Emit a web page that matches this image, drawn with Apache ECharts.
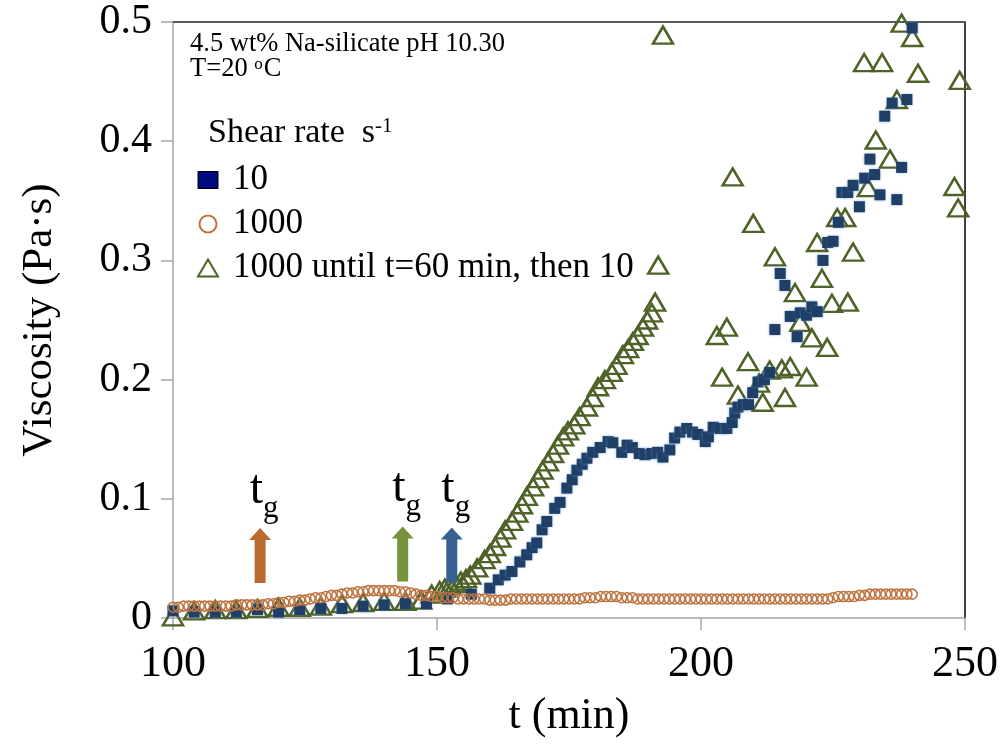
<!DOCTYPE html>
<html>
<head>
<meta charset="utf-8">
<script src="https://cdn.jsdelivr.net/npm/echarts@6/dist/echarts.min.js"></script>
<style>
  html, body { margin: 0; padding: 0; background: #fff; }
  #main { width: 1002px; height: 747px; }
</style>
</head>
<body>
<div id="main"></div>
<script>
// 数据: 剪切速率 1000 s-1 (每分钟一个点, 从 t=100 开始)
const orangeStart = 100;
const orangeStep = 1;
const orangeV = [
  0.009, 0.009, 0.010, 0.010, 0.010, 0.010, 0.010, 0.010, 0.010, 0.010,
  0.010, 0.010, 0.011, 0.011, 0.011, 0.011, 0.011, 0.011, 0.012, 0.012,
  0.013, 0.013, 0.014, 0.014, 0.015, 0.015, 0.016, 0.017, 0.017, 0.018,
  0.019, 0.019, 0.020, 0.021, 0.021, 0.022, 0.022, 0.023, 0.023, 0.023,
  0.023, 0.023, 0.023, 0.022, 0.022, 0.021, 0.020, 0.019, 0.019, 0.018,
  0.018, 0.017, 0.017, 0.017, 0.016, 0.016, 0.016, 0.016, 0.016, 0.016,
  0.015, 0.015, 0.015, 0.015, 0.016, 0.016, 0.016, 0.016, 0.016, 0.016,
  0.016, 0.016, 0.016, 0.016, 0.016, 0.016, 0.016, 0.016, 0.017, 0.017,
  0.017, 0.018, 0.018, 0.018, 0.018, 0.017, 0.017, 0.017, 0.016, 0.016,
  0.016, 0.016, 0.016, 0.016, 0.016, 0.016, 0.016, 0.016, 0.016, 0.016,
  0.016, 0.016, 0.016, 0.016, 0.016, 0.016, 0.016, 0.016, 0.016, 0.016,
  0.016, 0.016, 0.016, 0.016, 0.016, 0.016, 0.016, 0.016, 0.016, 0.016,
  0.016, 0.016, 0.016, 0.016, 0.016, 0.017, 0.018, 0.018, 0.018, 0.018,
  0.019, 0.019, 0.020, 0.020, 0.020, 0.020, 0.020, 0.020, 0.020, 0.020,
  0.020
];

// 剪切速率 10 s-1
const blueT = [
  100, 104, 108, 112, 116, 120, 124, 128, 132, 136, 140, 144, 148, 152, 156.5, 160,
  161.6, 162.9, 164.2, 165.7, 167, 168, 168.9, 169.9, 170.8, 172.3, 173.3, 174.6, 175.6, 176.5,
  177.5, 178.4, 179.5, 180.9, 182.4, 183.3, 185, 186, 187, 188.3, 189.4, 190.7, 191.8, 192.8,
  194.1, 195, 196, 197.3, 198.4, 199.4, 200.8, 201.4, 202.3, 203.6, 204.9, 205.9, 206.4, 207,
  208, 209, 209.8, 210.8, 212, 213, 214, 215, 215.9, 216.9, 218.2, 218.8, 220, 221, 222,
  223.1, 224, 225, 226, 226.7, 227.8, 228.8, 230, 231, 232, 232.9, 233.9, 234.8, 236.2,
  237.1, 238, 239, 240
];
const blueV = [
  0.006, 0.005, 0.005, 0.005, 0.007, 0.005, 0.007, 0.008, 0.008, 0.010, 0.011, 0.012, 0.012, 0.016, 0.020, 0.025,
  0.032, 0.036, 0.039, 0.047, 0.053, 0.059, 0.063, 0.074, 0.081, 0.092, 0.097, 0.109, 0.116, 0.124,
  0.129, 0.134, 0.139, 0.143, 0.148, 0.147, 0.139, 0.145, 0.143, 0.138, 0.137, 0.138, 0.139, 0.135,
  0.141, 0.151, 0.156, 0.159, 0.156, 0.154, 0.148, 0.152, 0.160, 0.159, 0.159, 0.164, 0.172, 0.177,
  0.179, 0.179, 0.189, 0.198, 0.200, 0.206, 0.242, 0.289, 0.279, 0.253, 0.236, 0.256, 0.254, 0.261, 0.257,
  0.300, 0.315, 0.316, 0.332, 0.357, 0.357, 0.363, 0.345, 0.369, 0.385, 0.372, 0.355, 0.421, 0.432,
  0.351, 0.378, 0.435, 0.495
];

// 1000 s-1 直到 t=60 min, 然后 10 s-1
const greenT = [
  100, 104, 108, 112, 116, 120, 124, 128, 132, 136, 140, 144, 147, 149,
  150.5, 151.5, 152.5, 153.5, 154.5, 155.5, 156.3, 157.6, 159, 160, 161, 162, 162.9, 164.2,
  165.2, 166.1, 167, 168.2, 169.1, 170, 171, 172, 172.9, 173.9, 174.8, 176, 177, 178.4,
  179.5, 180.5, 181.8, 183.1, 184, 185.2, 186.2, 187.1, 188, 189, 189.8, 190.7, 191.3, 191.9,
  192.8,
  203, 204, 204.9, 206, 207, 208.9, 209.9, 211, 211.7, 213, 214, 215.3, 215.9, 216.9, 217.8,
  218.8, 220, 221, 222, 222.9, 223.9, 224.8, 225.8, 227.3, 227.8, 228.8, 230.9, 231.6, 233.1,
  234.3, 235.8, 237.1, 238, 240, 241.1, 248, 248.7, 249
];
const greenV = [
  0.001, 0.006, 0.007, 0.007, 0.008, 0.009, 0.009, 0.010, 0.012, 0.013, 0.014, 0.014, 0.015, 0.020,
  0.023, 0.025, 0.027, 0.029, 0.031, 0.033, 0.036, 0.042, 0.049, 0.054, 0.060, 0.067, 0.074, 0.081,
  0.088, 0.095, 0.102, 0.110, 0.117, 0.124, 0.131, 0.138, 0.145, 0.152, 0.157, 0.162, 0.169, 0.177,
  0.185, 0.194, 0.200, 0.206, 0.212, 0.221, 0.226, 0.232, 0.237, 0.244, 0.250, 0.256, 0.265, 0.296,
  0.489,
  0.237, 0.202, 0.244, 0.370, 0.187, 0.215, 0.331, 0.197, 0.181, 0.208, 0.303, 0.209, 0.185, 0.211, 0.273,
  0.248, 0.202, 0.235, 0.315, 0.285, 0.227, 0.264, 0.336, 0.336, 0.265, 0.307, 0.466, 0.361, 0.401,
  0.466, 0.385, 0.435, 0.499, 0.487, 0.457, 0.362, 0.344, 0.451
];

// t_g 箭头位置 [t, 高度]
const tgOrange = [116.5, 0.0524];
const tgGreen = [143.5, 0.0537];
const tgBlue = [152.8, 0.0528];

const xTicks = { min: 100, max: 250, interval: 50 };
const yTicks = { min: 0, max: 0.5, interval: 0.1 };

const serif = '"Liberation Serif", "Times New Roman", serif';
const arrowPath = 'path://M11,0 L22,12 L16.5,12 L16.5,55 L5.5,55 L5.5,12 L0,12 Z';

function pairs(ts, vs) {
  return ts.map((t, i) => [t, vs[i]]);
}
const orangeData = orangeV.map((v, i) => [orangeStart + i * orangeStep, v]);

function tgMark(coord, color) {
  return {
    symbol: arrowPath,
    symbolSize: [22, 55],
    symbolKeepAspect: false,
    itemStyle: { color: color, borderWidth: 0, shadowBlur: 0, opacity: 1 },
    label: {
      show: true,
      position: 'top',
      distance: 4,
      offset: [4, 0],
      formatter: '{t|t}{g|g}',
      rich: {
        t: { fontFamily: serif, fontSize: 48, color: '#000', lineHeight: 48, padding: [0, 0, 10, 0], verticalAlign: 'bottom' },
        g: { fontFamily: serif, fontSize: 31, color: '#000', lineHeight: 31, verticalAlign: 'bottom' }
      }
    },
    data: [{ coord: coord, value: '' }]
  };
}

const myChart = echarts.init(document.getElementById('main'));
const option = {
  animation: false,
  backgroundColor: '#fff',
  grid: { left: 173, right: 37, top: 22, bottom: 129 },
  legend: {
    orient: 'vertical',
    left: 197,
    top: 162,
    padding: 0,
    itemWidth: 20,
    itemHeight: 17,
    itemGap: 8,
    textStyle: { fontFamily: serif, fontSize: 35, color: '#000', lineHeight: 36, padding: [0, 0, 0, 10] },
    data: [
      { name: '10', itemStyle: { color: '#000A80', borderColor: '#000', borderWidth: 1, shadowBlur: 0, opacity: 1 } },
      { name: '1000' },
      { name: '1000 until t=60 min, then 10' }
    ]
  },
  graphic: [
    {
      type: 'text', left: 190, top: 31,
      style: { text: '4.5 wt% Na-silicate pH 10.30', font: '26.5px ' + serif, fill: '#000' }
    },
    {
      type: 'text', left: 190, top: 56,
      style: {
        text: 'T=20 {sup|o}C', font: '26.5px ' + serif, fill: '#000',
        rich: { sup: { fontSize: 17, fontFamily: serif, verticalAlign: 'top', padding: [0, 1, 10, 0] } }
      }
    },
    {
      type: 'text', left: 208, top: 116,
      style: {
        text: 'Shear rate  s{sup|-1}', font: '34px ' + serif, fill: '#000',
        rich: { sup: { fontSize: 21, fontFamily: serif, verticalAlign: 'top', padding: [0, 0, 14, 0] } }
      }
    }
  ],
  xAxis: [
    {
      type: 'value',
      min: xTicks.min, max: xTicks.max, interval: xTicks.interval,
      name: 't (min)',
      nameLocation: 'middle',
      nameGap: 76,
      nameTextStyle: { fontFamily: serif, fontSize: 44, color: '#000' },
      axisLine: { show: true, onZero: false, lineStyle: { color: '#a6a6a6', width: 1.5 } },
      axisTick: { show: true, inside: false, length: 12, lineStyle: { color: '#a6a6a6', width: 1.5 } },
      axisLabel: { fontFamily: serif, fontSize: 44, color: '#000', margin: 24 },
      splitLine: { show: false }
    },
    {
      type: 'value', position: 'top',
      min: xTicks.min, max: xTicks.max,
      axisLine: { show: true, onZero: false, lineStyle: { color: '#595959', width: 2 } },
      axisTick: { show: false }, axisLabel: { show: false }, splitLine: { show: false }
    }
  ],
  yAxis: [
    {
      type: 'value',
      min: yTicks.min, max: yTicks.max, interval: yTicks.interval,
      name: 'Viscosity (Pa·s)',
      nameLocation: 'middle',
      nameGap: 112,
      nameRotate: 90,
      nameTextStyle: { fontFamily: serif, fontSize: 43, color: '#000' },
      axisLine: { show: true, onZero: false, lineStyle: { color: '#a6a6a6', width: 1.5 } },
      axisTick: { show: true, inside: false, length: 12, lineStyle: { color: '#a6a6a6', width: 1.5 } },
      axisLabel: { fontFamily: serif, fontSize: 42, color: '#000', margin: 21 },
      splitLine: { show: false }
    },
    {
      type: 'value', position: 'right',
      min: yTicks.min, max: yTicks.max,
      axisLine: { show: true, onZero: false, lineStyle: { color: '#000', width: 1.5 } },
      axisTick: { show: false }, axisLabel: { show: false }, splitLine: { show: false }
    }
  ],
  series: [
    {
      name: '1000 until t=60 min, then 10',
      type: 'scatter',
      symbol: 'triangle',
      symbolSize: [20, 17],
      itemStyle: { color: 'rgba(255,255,255,0)', borderColor: '#4F6228', borderWidth: 2.5, opacity: 1 },
      data: pairs(greenT, greenV),
      markPoint: tgMark(tgGreen, '#76923C'),
      z: 2
    },
    {
      name: '10',
      type: 'scatter',
      symbol: 'rect',
      symbolSize: 11,
      itemStyle: { color: '#1F3F66', shadowBlur: 3, shadowColor: 'rgba(110,160,220,0.9)', opacity: 1 },
      data: pairs(blueT, blueV),
      markPoint: tgMark(tgBlue, '#376092'),
      z: 3
    },
    {
      name: '1000',
      type: 'scatter',
      symbol: 'circle',
      symbolSize: 10,
      itemStyle: { color: 'rgba(255,255,255,0)', borderColor: '#BE7440', borderWidth: 1.6, opacity: 1 },
      data: orangeData,
      markPoint: tgMark(tgOrange, '#B96A2E'),
      z: 4
    }
  ]
};
myChart.setOption(option);
</script>
</body>
</html>
